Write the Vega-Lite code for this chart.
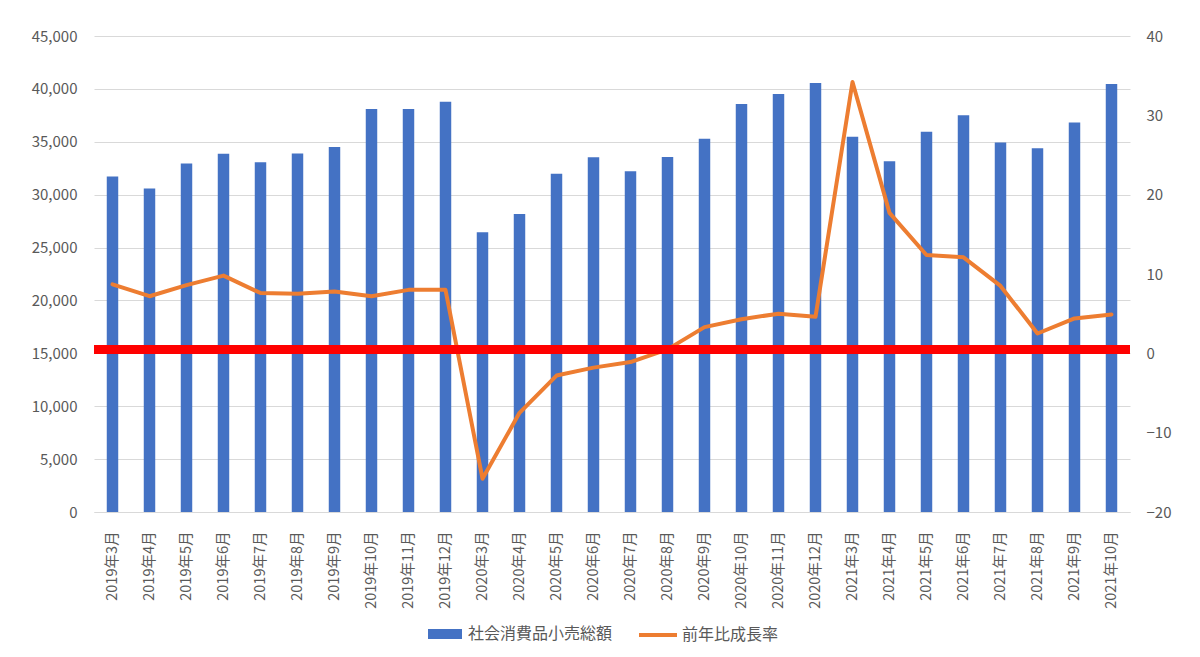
{
  "$schema": "https://vega.github.io/schema/vega-lite/v6.json",
  "width": 1036,
  "height": 476,
  "autosize": {"type": "none"},
  "padding": {"left": 94, "top": 36, "right": 70, "bottom": 145},
  "background": "#ffffff",
  "config": {
    "view": {"stroke": null},
    "font": "Noto Sans CJK JP",
    "axis": {"labelFont": "Noto Sans CJK JP", "labelColor": "#595959", "labelFontSize": 15, "ticks": false, "title": null},
    "legend": {"labelFont": "Noto Sans CJK JP", "labelColor": "#595959", "labelFontSize": 16, "padding": 0, "offset": 0}
  },
  "data": {
    "values": [
      {"month": "2019年3月", "sales": 31726, "growth": 8.7},
      {"month": "2019年4月", "sales": 30586, "growth": 7.2},
      {"month": "2019年5月", "sales": 32956, "growth": 8.6},
      {"month": "2019年6月", "sales": 33878, "growth": 9.8},
      {"month": "2019年7月", "sales": 33073, "growth": 7.6},
      {"month": "2019年8月", "sales": 33896, "growth": 7.5},
      {"month": "2019年9月", "sales": 34495, "growth": 7.8},
      {"month": "2019年10月", "sales": 38104, "growth": 7.2},
      {"month": "2019年11月", "sales": 38094, "growth": 8.0},
      {"month": "2019年12月", "sales": 38777, "growth": 8.0},
      {"month": "2020年3月", "sales": 26450, "growth": -15.8},
      {"month": "2020年4月", "sales": 28178, "growth": -7.5},
      {"month": "2020年5月", "sales": 31973, "growth": -2.8},
      {"month": "2020年6月", "sales": 33526, "growth": -1.8},
      {"month": "2020年7月", "sales": 32203, "growth": -1.1},
      {"month": "2020年8月", "sales": 33571, "growth": 0.5},
      {"month": "2020年9月", "sales": 35295, "growth": 3.3},
      {"month": "2020年10月", "sales": 38576, "growth": 4.3},
      {"month": "2020年11月", "sales": 39514, "growth": 5.0},
      {"month": "2020年12月", "sales": 40566, "growth": 4.6},
      {"month": "2021年3月", "sales": 35484, "growth": 34.2},
      {"month": "2021年4月", "sales": 33153, "growth": 17.7},
      {"month": "2021年5月", "sales": 35945, "growth": 12.4},
      {"month": "2021年6月", "sales": 37500, "growth": 12.1},
      {"month": "2021年7月", "sales": 34925, "growth": 8.5},
      {"month": "2021年8月", "sales": 34395, "growth": 2.5},
      {"month": "2021年9月", "sales": 36833, "growth": 4.4},
      {"month": "2021年10月", "sales": 40454, "growth": 4.9}
    ]
  },
  "layer": [
    {
      "mark": {"type": "bar", "color": "#4472C4"},
      "encoding": {
        "x": {
          "field": "month", "type": "nominal", "sort": null,
          "scale": {"paddingInner": 0.69, "paddingOuter": 0.345},
          "axis": {"labelAngle": -90, "labelPadding": 19, "labelFontSize": 14.5, "domain": true, "domainColor": "#D9D9D9", "domainWidth": 1, "grid": false}
        },
        "y": {
          "field": "sales", "type": "quantitative",
          "scale": {"domain": [0, 45000], "nice": false},
          "axis": {"orient": "left", "values": [0, 5000, 10000, 15000, 20000, 25000, 30000, 35000, 40000, 45000], "format": ",d", "grid": true, "gridColor": "#D9D9D9", "gridWidth": 1, "domain": false, "labelPadding": 17}
        },
        "color": {
          "datum": "社会消費品小売総額",
          "scale": {"range": ["#4472C4"]},
          "legend": {"orient": "none", "legendX": 334, "legendY": 581, "title": null, "symbolType": "M-1,-0.294H1V0.294H-1Z", "symbolSize": 1156, "symbolStrokeWidth": 0, "labelOffset": 6}
        }
      }
    },
    {
      "layer": [
        {
          "mark": {"type": "line", "strokeWidth": 4, "strokeJoin": "round", "strokeCap": "round"},
          "encoding": {
            "x": {"field": "month", "type": "nominal", "sort": null},
            "y": {
              "field": "growth", "type": "quantitative",
              "scale": {"domain": [-20, 40], "nice": false},
              "axis": {"orient": "right", "values": [-20, -10, 0, 10, 20, 30, 40], "grid": false, "domain": false, "labelPadding": 16}
            },
            "stroke": {
              "datum": "前年比成長率",
              "scale": {"range": ["#ED7D31"]},
              "legend": {"orient": "none", "legendX": 543, "legendY": 578, "title": null, "symbolType": "stroke", "symbolSize": 1444, "symbolStrokeWidth": 4, "labelOffset": 3}
            }
          }
        },
        {
          "mark": {"type": "rule", "color": "#FF0000", "strokeWidth": 8},
          "encoding": {
            "y": {"datum": 0.5, "type": "quantitative"}
          }
        }
      ]
    }
  ],
  "resolve": {"scale": {"y": "independent"}}
}
